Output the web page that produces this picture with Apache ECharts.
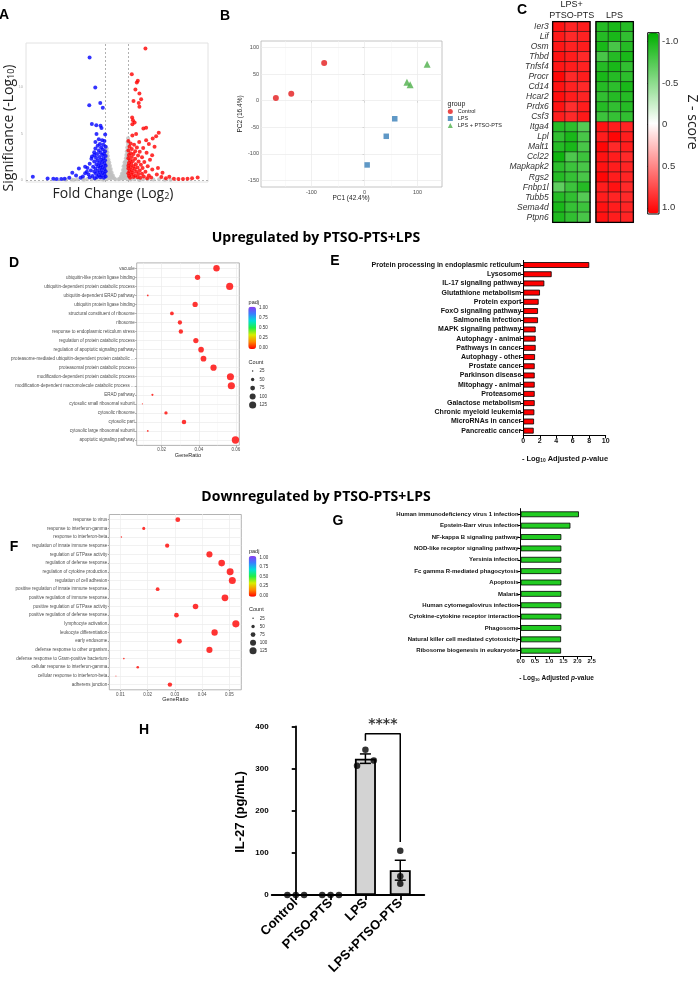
<!DOCTYPE html>
<html><head><meta charset="utf-8">
<script src="https://cdn.jsdelivr.net/npm/echarts@6.0.0/dist/echarts.min.js"></script>
<style>html,body{margin:0;padding:0;background:#fff}#c{width:700px;height:981px}</style>
</head><body><div id="c"></div>
<script>
// ---------------- DATA ----------------
// A: volcano (log2 fold change, -log10 p)
const volcanoNS = [[-0.98,3.6],[-0.95,3.2],[-0.9,3.4],[-0.92,2.8],[-0.85,3.0],[-0.97,2.4],[-0.88,2.5],[-0.8,2.6],[-0.93,2.0],[-0.83,2.1],[-0.75,2.2],[-0.96,1.6],[-0.86,1.7],[-0.77,1.8],[-0.68,1.9],[-0.9,1.3],[-0.8,1.4],[-0.7,1.5],[-0.62,1.55],[-0.95,1.0],[-0.85,1.05],[-0.74,1.1],[-0.64,1.15],[-0.55,1.2],[-0.92,0.7],[-0.8,0.75],[-0.69,0.8],[-0.58,0.85],[-0.48,0.85],[-0.9,0.4],[-0.78,0.45],[-0.66,0.5],[-0.55,0.5],[-0.45,0.55],[-0.36,0.5],[-0.85,0.15],[-0.7,0.2],[-0.58,0.2],[-0.46,0.25],[-0.35,0.25],[-0.25,0.2],[-0.15,0.1],
 [0.97,4.5],[0.93,4.1],[0.98,3.8],[0.9,3.5],[0.96,3.2],[0.86,3.1],[0.92,2.8],[0.82,2.7],[0.96,2.5],[0.88,2.3],[0.78,2.35],[0.94,2.0],[0.84,1.95],[0.74,2.0],[0.66,1.9],[0.96,1.6],[0.86,1.6],[0.76,1.6],[0.66,1.55],[0.58,1.5],[0.93,1.2],[0.83,1.2],[0.72,1.2],[0.62,1.15],[0.53,1.1],[0.95,0.85],[0.85,0.85],[0.74,0.85],[0.63,0.8],[0.52,0.75],[0.43,0.7],[0.92,0.45],[0.8,0.5],[0.68,0.5],[0.56,0.45],[0.45,0.45],[0.35,0.4],[0.88,0.15],[0.72,0.2],[0.6,0.2],[0.47,0.2],[0.35,0.18],[0.24,0.15],[0.14,0.1],
 [-4.5,0.05],[-4.0,0.08],[-3.5,0.1],[-3.0,0.1],[-2.6,0.12],[-2.2,0.1],[-1.8,0.08],[-1.4,0.1],[-1.2,0.05],[1.2,0.06],[1.5,0.1],[1.9,0.08],[2.3,0.1],[2.7,0.1],[3.2,0.08],[3.7,0.1],[4.2,0.05],[4.7,0.05],[-3.8,0.05],[-2.9,0.03],[2.0,0.02]];
const volcanoDown = [[-2.41,13.2],[-1.91,9.97],[-2.44,8.06],[-1.47,8.3],[-1.25,7.78],[-2.21,6.05],[-1.82,5.9],[-1.45,5.84],[-1.36,5.6],[-1.8,4.95],[-1.04,4.9],
 [-1.6,4.4],[-1.3,4.3],[-1.1,4.2],[-1.9,4.1],[-1.5,3.9],[-1.2,3.8],[-1.7,3.7],[-1.0,3.6],[-1.4,3.5],[-1.9,3.4],[-1.25,3.3],[-1.6,3.2],[-1.05,3.1],[-2.0,3.0],[-1.45,2.95],[-1.15,2.85],[-1.75,2.8],[-1.3,2.7],[-1.0,2.6],[-2.2,2.55],[-1.55,2.5],[-1.85,2.4],[-1.2,2.35],[-1.4,2.2],[-1.05,2.15],[-1.7,2.1],[-2.0,2.0],[-1.3,1.95],[-1.55,1.85],[-1.1,1.8],[-2.4,1.75],[-1.8,1.7],[-1.4,1.6],[-1.0,1.55],[-1.65,1.5],[-2.1,1.45],[-1.25,1.4],[-2.6,1.3],[-1.5,1.3],[-1.9,1.25],[-1.1,1.2],[-1.35,1.1],[-2.3,1.05],[-1.7,1.0],[-1.0,0.95],[-2.0,0.9],[-1.5,0.85],[-1.25,0.8],[-2.8,0.75],[-1.85,0.7],[-1.1,0.65],[-2.5,0.6],[-1.6,0.55],[-1.35,0.5],[-2.15,0.45],[-1.0,0.4],[-3.0,0.4],[-1.75,0.35],[-1.45,0.3],[-2.4,0.3],[-1.15,0.25],[-1.95,0.2],[-3.35,1.26],[-2.8,1.43],[-3.93,0.79],[-3.6,0.5],[-4.2,0.25],[-4.6,0.15],[-4.9,0.12],[-5.3,0.12],[-5.6,0.15],[-6.1,0.18],[-7.4,0.36],[-3.2,0.25],[-2.65,0.9],[-2.25,2.3],[-2.0,2.7]];
const volcanoUp = [[2.5,14.16],[1.3,11.4],[1.83,10.7],[1.74,10.5],[1.62,9.75],[1.97,9.32],[2.12,8.71],[1.45,8.5],[1.91,8.3],[1.97,7.88],[1.33,6.74],[1.4,6.45],[1.55,6.2],[1.35,6.0],[2.32,5.56],[2.56,5.63],[3.67,5.09],[3.44,4.73],[1.68,4.95],[1.35,4.8],[3.14,4.48],[2.56,4.3],[1.95,4.1],[2.8,3.9],[3.3,3.6],[3.09,2.69],
 [1.0,4.2],[1.2,3.95],[1.5,3.8],[1.1,3.6],[1.75,3.5],[2.3,3.45],[1.3,3.35],[1.0,3.2],[1.6,3.1],[2.0,3.05],[1.2,2.9],[2.6,2.95],[1.45,2.8],[1.05,2.7],[1.85,2.65],[1.3,2.5],[2.2,2.45],[1.0,2.35],[1.6,2.3],[2.9,2.2],[1.15,2.15],[1.4,2.05],[1.9,2.0],[2.4,1.95],[1.05,1.85],[1.25,1.75],[1.65,1.7],[2.1,1.65],[1.0,1.55],[1.45,1.5],[2.7,1.5],[1.2,1.4],[1.8,1.35],[2.25,1.3],[1.0,1.25],[1.55,1.2],[3.1,1.15],[1.3,1.1],[2.0,1.05],[1.1,0.95],[1.7,0.9],[2.5,0.9],[1.4,0.8],[1.0,0.75],[2.2,0.7],[1.9,0.65],[3.5,0.6],[1.25,0.6],[1.6,0.5],[2.8,0.5],[1.05,0.45],[2.35,0.4],[1.45,0.35],[3.9,0.35],[1.8,0.3],[1.15,0.25],[2.05,0.25],[3.0,0.28],[4.6,0.36],[4.3,0.2],[5.0,0.15],[5.4,0.12],[5.8,0.12],[6.2,0.14],[6.6,0.2],[7.09,0.29],[2.65,0.2],[4.0,0.8],[3.6,1.3]];
const volcanoYTicks = [0,5,10];

// B: PCA
const pcaControl = [[-167,5],[-138,13],[-76,71]];
const pcaLPS = [[57,-34],[41,-67],[5,-121]];
const pcaLPSPTSO = [[80,35],[86,30],[118,69]];
const pcaXTicks = [-100,0,100];
const pcaYTicks = [-150,-100,-50,0,50,100];

// C: heatmap z-scores
const heatGenes = ['Ier3','Lif','Osm','Thbd','Tnfsf4','Procr','Cd14','Hcar2','Prdx6','Csf3','Itga4','Lpl','Malt1','Ccl22','Mapkapk2','Rgs2','Fnbp1l','Tubb5','Sema4d','Ptpn6'];
const heatLPSPTSO = [[1.0,0.92,0.95],[0.97,0.9,0.93],[0.98,0.93,0.95],[1.0,0.95,0.9],[0.98,0.95,0.93],[1.05,0.9,0.95],[1.0,0.93,0.9],[1.02,0.95,0.92],[1.0,0.88,0.95],[0.95,0.9,0.97],
 [-0.95,-0.92,-0.75],[-0.9,-1.0,-0.8],[-0.95,-1.0,-0.8],[-1.05,-0.78,-0.85],[-0.92,-0.85,-0.8],[-0.95,-0.88,-0.8],[-0.7,-0.85,-0.95],[-0.95,-0.9,-0.75],[-1.0,-0.88,-0.85],[-0.98,-0.9,-0.8]];
const heatLPS = [[-0.95,-1.0,-0.95],[-0.95,-1.0,-0.9],[-1.0,-0.8,-0.95],[-0.8,-0.95,-1.0],[-0.95,-1.0,-0.9],[-1.0,-0.95,-0.92],[-0.95,-0.92,-1.0],[-0.9,-0.95,-0.95],[-0.95,-0.9,-0.95],[-0.85,-0.88,-0.9],
 [1.0,0.95,0.92],[0.95,1.05,0.95],[1.05,0.9,0.95],[1.0,0.95,0.9],[1.0,0.95,0.92],[1.05,0.95,0.92],[0.95,1.0,0.9],[0.95,0.92,0.9],[1.0,0.95,0.92],[1.0,0.95,0.92]];
const zTicks = [-1,-0.5,0,0.5,1];

// D: GO up
const goUpTerms = ['vacuole','ubiquitin-like protein ligase binding','ubiquitin-dependent protein catabolic process','ubiquitin-dependent ERAD pathway','ubiquitin protein ligase binding','structural constituent of ribosome','ribosome','response to endoplasmic reticulum stress','regulation of protein catabolic process','regulation of apoptotic signaling pathway','proteasome-mediated ubiquitin-dependent protein catabolic ...','proteasomal protein catabolic process','modification-dependent protein catabolic process','modification-dependent macromolecule catabolic process ...','ERAD pathway','cytosolic small ribosomal subunit','cytosolic ribosome','cytosolic part','cytosolic large ribosomal subunit','apoptotic signaling pathway'];
const goUpRatio = [0.0495,0.0393,0.0566,0.0125,0.038,0.0255,0.0298,0.0303,0.0384,0.0412,0.0425,0.0479,0.057,0.0575,0.015,0.0096,0.0223,0.032,0.0125,0.0597];
const goUpCount = [109,86,125,28,84,56,66,67,84,91,94,105,125,127,33,21,49,70,28,131];
const goUpPadj = [0.001,0.002,0.001,0.01,0.003,0.004,0.004,0.005,0.003,0.002,0.002,0.001,0.001,0.001,0.008,0.012,0.006,0.003,0.01,0.001];
const goUpXTicks = [0.02,0.04,0.06];

// E: KEGG up
const keggUpTerms = ['Protein processing in endoplasmic reticulum','Lysosome','IL-17 signaling pathway','Glutathione metabolism','Protein export','FoxO signaling pathway','Salmonella infection','MAPK signaling pathway','Autophagy - animal','Pathways in cancer','Autophagy - other','Prostate cancer','Parkinson disease','Mitophagy - animal','Proteasome','Galactose metabolism','Chronic myeloid leukemia','MicroRNAs in cancer','Pancreatic cancer'];
const keggUpVals = [8.0,3.44,2.55,2.02,1.86,1.78,1.78,1.5,1.5,1.5,1.42,1.38,1.38,1.38,1.38,1.38,1.34,1.3,1.26];

// F: GO down
const goDownTerms = ['response to virus','response to interferon-gamma','response to interferon-beta','regulation of innate immune response','regulation of GTPase activity','regulation of defense response','regulation of cytokine production','regulation of cell adhesion','positive regulation of innate immune response','positive regulation of immune response','positive regulation of GTPase activity','positive regulation of defense response','lymphocyte activation','leukocyte differentiation','early endosome','defense response to other organism','defense response to Gram-positive bacterium','cellular response to interferon-gamma','cellular response to interferon-beta','adherens junction'];
const goDownRatio = [0.0311,0.0186,0.0104,0.0272,0.0427,0.0472,0.0503,0.0511,0.0237,0.0484,0.0376,0.0306,0.0524,0.0446,0.0317,0.0427,0.0113,0.0164,0.0084,0.0282];
const goDownCount = [75,45,25,65,102,113,121,123,57,116,90,73,126,107,76,102,27,39,20,68];
const goDownPadj = [0.002,0.005,0.01,0.004,0.002,0.001,0.001,0.001,0.006,0.001,0.003,0.003,0.001,0.002,0.004,0.002,0.012,0.008,0.015,0.005];
const goDownXTicks = [0.01,0.02,0.03,0.04,0.05];

// G: KEGG down
const keggDownTerms = ['Human immunodeficiency virus 1 infection','Epstein-Barr virus infection','NF-kappa B signaling pathway','NOD-like receptor signaling pathway','Yersinia infection','Fc gamma R-mediated phagocytosis','Apoptosis','Malaria','Human cytomegalovirus infection','Cytokine-cytokine receptor interaction','Phagosome','Natural killer cell mediated cytotoxicity','Ribosome biogenesis in eukaryotes'];
const keggDownVals = [2.05,1.75,1.43,1.43,1.43,1.43,1.43,1.43,1.43,1.43,1.43,1.42,1.42];

// H: IL-27
const il27Groups = ['Control','PTSO-PTS','LPS','LPS+PTSO-PTS'];
const il27Values = [[0,0,0],[0,0,0],[345,307,319],[105,44.5,27]];
const il27Sig = ['****'];

// legend breaks
const padjBreaks = [0,0.25,0.5,0.75,1];
const countBreaks = [25,50,75,100,125];

// ---------------- BUILD ----------------
const grids=[], xAxes=[], yAxes=[], series=[], visualMaps=[], graphics=[];
function addGrid(g,x,y){grids.push(Object.assign({show:false,containLabel:false},g));const i=grids.length-1;xAxes.push(Object.assign({gridIndex:i},x));yAxes.push(Object.assign({gridIndex:i},y));return i;}
function txt(x,y,text,st,rot){graphics.push({type:'text',x:x,y:y,rotation:rot||0,silent:true,style:Object.assign({text:text,fill:'#000',align:'center',verticalAlign:'middle',fontFamily:'Liberation Sans'},st)});}
const hide={show:false};
const LS='Liberation Sans';

// ---- A volcano
const gA=addGrid({left:26,top:43,width:182,height:139,show:true,borderColor:'#e2e2e2',borderWidth:1,backgroundColor:'#fff'},
 {type:'value',min:-8,max:8,axisLine:hide,axisTick:hide,axisLabel:hide,splitLine:hide},
 {type:'value',min:-0.2,max:14.75,axisLine:hide,axisTick:hide,splitLine:hide,axisLabel:{customValues:volcanoYTicks,fontSize:4,color:'#aaa',margin:3}});
series.push({type:'scatter',xAxisIndex:gA,yAxisIndex:gA,data:volcanoNS,symbolSize:4,itemStyle:{color:'#bfbfbf'},silent:true,z:2,
 markLine:{silent:true,z:1,symbol:'none',label:hide,lineStyle:{color:'#b0b0b0',type:[2,2],width:1},data:[{xAxis:-1},{xAxis:1},{yAxis:0}]}});
series.push({type:'scatter',xAxisIndex:gA,yAxisIndex:gA,data:volcanoDown,symbolSize:4,itemStyle:{color:'#0000ff'},silent:true,z:3});
series.push({type:'scatter',xAxisIndex:gA,yAxisIndex:gA,data:volcanoUp,symbolSize:4,itemStyle:{color:'#ff0000'},silent:true,z:3});
txt(9,128,'{a|Significance (-Log}{s|10}{a|)}',{rich:{a:{fontSize:14,fontFamily:'Open Sans',fill:'#222'},s:{fontSize:9,fontFamily:'Open Sans',fill:'#222',verticalAlign:'bottom'}}},Math.PI/2);
txt(113,194,'{a|Fold Change (Log}{s|2}{a|)}',{rich:{a:{fontSize:14,fontFamily:'Open Sans',fill:'#222'},s:{fontSize:9,fontFamily:'Open Sans',fill:'#222',verticalAlign:'bottom'}}});

// ---- B PCA
const gB=addGrid({left:261,top:41,width:181,height:146,show:true,borderColor:'#b5b5b5',borderWidth:0.8,backgroundColor:'#fff'},
 {type:'value',min:-195,max:146,axisLine:hide,splitLine:hide,axisTick:{customValues:pcaXTicks,length:2,lineStyle:{color:'#444',width:0.5}},axisLabel:{customValues:pcaXTicks,fontSize:5.5,color:'#4d4d4d',margin:2,fontFamily:LS}},
 {type:'value',min:-162.6,max:112.6,axisLine:hide,splitLine:hide,axisTick:{customValues:pcaYTicks,length:2,lineStyle:{color:'#444',width:0.5}},axisLabel:{customValues:pcaYTicks,fontSize:5.5,color:'#4d4d4d',margin:2,fontFamily:LS}});
const majB='#e9e9e9', minB='#f4f4f4';
series.push({type:'scatter',name:'Control',xAxisIndex:gB,yAxisIndex:gB,data:pcaControl,symbol:'circle',symbolSize:6,itemStyle:{color:'#e41a1c'},z:3,
 markLine:{silent:true,z:1,symbol:'none',label:hide,data:[
  {xAxis:-150,lineStyle:{color:minB,width:0.5,type:'solid'}},{xAxis:-50,lineStyle:{color:minB,width:0.5,type:'solid'}},{xAxis:50,lineStyle:{color:minB,width:0.5,type:'solid'}},
  {xAxis:-100,lineStyle:{color:majB,width:0.7,type:'solid'}},{xAxis:0,lineStyle:{color:majB,width:0.7,type:'solid'}},{xAxis:100,lineStyle:{color:majB,width:0.7,type:'solid'}}
 ].concat(pcaYTicks.map(v=>({yAxis:v,lineStyle:{color:majB,width:0.7,type:'solid'}})))}});
series.push({type:'scatter',name:'LPS',xAxisIndex:gB,yAxisIndex:gB,data:pcaLPS,symbol:'rect',symbolSize:5.5,itemStyle:{color:'#377eb8'},z:3});
series.push({type:'scatter',name:'LPS + PTSO-PTS',xAxisIndex:gB,yAxisIndex:gB,data:pcaLPSPTSO,symbol:'triangle',symbolSize:7,itemStyle:{color:'#4daf4a'},z:3});
txt(351,198,'PC1 (42.4%)',{fontSize:6.5,fill:'#222'});
txt(240,114,'PC2 (16.4%)',{fontSize:6.5,fill:'#222'},Math.PI/2);
txt(447.5,104.3,'group',{fontSize:7,fill:'#222',align:'left'});

// ---- C heatmap
function heatBlock(left,vals,showLabels){
 const g=addGrid({left:left,top:21.7,width:37.3,height:200.6,show:true,borderColor:'#000',borderWidth:1.2,z:5},
  {type:'category',data:['1','2','3'],show:false},
  {type:'category',data:heatGenes,inverse:true,axisLine:hide,axisTick:hide,splitLine:hide,
   axisLabel:{show:showLabels,interval:0,fontSize:8.5,fontStyle:'italic',color:'#333',margin:4,fontFamily:LS}});
 const data=[];vals.forEach((row,r)=>row.forEach((v,c)=>data.push([c,r,v])));
 series.push({type:'heatmap',xAxisIndex:g,yAxisIndex:g,data:data,itemStyle:{borderColor:'#1a1a1a',borderWidth:0.6},silent:true});
 return series.length-1;
}
const hs1=heatBlock(552.7,heatLPSPTSO,true);
const hs2=heatBlock(596,heatLPS,false);
visualMaps.push({type:'continuous',seriesIndex:[hs1,hs2],dimension:2,min:-1.108,max:1.075,inverse:true,calculable:false,show:true,
 left:648,top:33,itemWidth:10.6,itemHeight:180.6,padding:0,inRange:{color:['#00b000','#ffffff','#ff0000']}});
const gZ=addGrid({left:647.7,top:32.7,width:11.3,height:181.3,show:true,borderColor:'#000',borderWidth:1,z:6},
 {type:'value',show:false},
 {type:'value',min:-1.108,max:1.075,inverse:true,position:'right',splitLine:hide,axisLine:hide,
  axisTick:{customValues:zTicks,length:2.5,lineStyle:{color:'#000',width:1}},
  axisLabel:{customValues:zTicks,formatter:v=>v===0?'0':v.toFixed(1),fontSize:9.5,color:'#333',margin:3,fontFamily:LS}});
txt(571.7,5,'LPS+',{fontSize:9,fill:'#222'});
txt(571.7,15.5,'PTSO-PTS',{fontSize:9,fill:'#222'});
txt(614.5,15.5,'LPS',{fontSize:9,fill:'#222'});
txt(692,122,'Z - score',{fontSize:14,fill:'#222',fontFamily:'Open Sans'},-Math.PI/2);

// ---- dot plots
const rainbow=['#ff0000','#ff8800','#d8ee00','#22ee44','#00e0d8','#3a7dff','#8a3cf0'];
function sizeFn(c){return Math.max(1,1+(Math.sqrt(c)-Math.sqrt(20))/(Math.sqrt(135)-Math.sqrt(20))*6.5);}
function dotPlot(o){
 const idx=o.terms.map((t,i)=>i+1);
 const g=addGrid({left:o.left,top:o.top,width:o.width,height:o.height,show:true,borderColor:'#a0a0a0',borderWidth:0.8,backgroundColor:'#fff'},
  {type:'value',min:o.xmin,max:o.xmax,axisLine:hide,splitLine:hide,axisTick:{customValues:o.xTicks,length:1.5,lineStyle:{color:'#444',width:0.5}},
   axisLabel:{customValues:o.xTicks,formatter:v=>v.toFixed(2),fontSize:4.5,color:'#4d4d4d',margin:2,fontFamily:LS}},
  {type:'value',min:0.4,max:o.terms.length+0.6,inverse:true,axisLine:hide,splitLine:hide,axisTick:{customValues:idx,length:1.5,lineStyle:{color:'#444',width:0.5}},
   axisLabel:{customValues:idx,formatter:v=>o.terms[Math.round(v)-1],fontSize:4.5,color:'#4d4d4d',margin:2,fontFamily:LS}});
 const ml=[];
 o.xTicks.forEach(v=>ml.push({xAxis:v,lineStyle:{color:'#ebebeb',width:0.7,type:'solid'}}));
 o.xMinor.forEach(v=>ml.push({xAxis:v,lineStyle:{color:'#f5f5f5',width:0.5,type:'solid'}}));
 idx.forEach(v=>ml.push({yAxis:v,lineStyle:{color:'#ebebeb',width:0.7,type:'solid'}}));
 series.push({type:'scatter',xAxisIndex:g,yAxisIndex:g,z:3,silent:true,
  data:o.terms.map((t,i)=>[o.ratio[i],i+1,o.count[i],o.padj[i]]),symbolSize:d=>sizeFn(d[2]),
  markLine:{silent:true,z:1,symbol:'none',label:hide,data:ml}});
 const si=series.length-1;
 visualMaps.push({type:'continuous',seriesIndex:si,dimension:3,min:0,max:1,calculable:false,show:true,left:o.lg.barLeft,top:o.lg.barTop,
  itemWidth:7.7,itemHeight:o.lg.barH,padding:0,inRange:{color:rainbow}});
 addGrid({left:o.lg.barLeft,top:o.lg.lblTop,width:7.7,height:o.lg.lblH},{type:'value',show:false},
  {type:'value',min:0,max:1,interval:0.25,position:'right',axisLine:hide,splitLine:hide,
   axisTick:{show:true,inside:true,length:1.5,lineStyle:{color:'#fff',width:0.5}},
   axisLabel:{formatter:v=>v.toFixed(2),fontSize:4.5,color:'#333',margin:3,fontFamily:LS}});
 txt(o.lg.barLeft+0.3,o.lg.padjY,'padj',{fontSize:5.5,fill:'#222',align:'left'});
 txt(o.lg.barLeft+0.3,o.lg.countY,'Count',{fontSize:5.5,fill:'#222',align:'left'});
 const gc=addGrid({left:o.lg.barLeft+0.6,top:o.lg.dotTop,width:7.5,height:o.lg.dotStep*5},
  {type:'category',data:[''],show:false},
  {type:'category',data:countBreaks.map(String),inverse:true,position:'right',axisLine:hide,axisTick:hide,splitLine:hide,
   axisLabel:{interval:0,fontSize:4.5,color:'#333',margin:3,fontFamily:LS}});
 series.push({type:'scatter',xAxisIndex:gc,yAxisIndex:gc,silent:true,data:countBreaks.map((c,i)=>[0,i,c]),symbolSize:d=>sizeFn(d[2]),itemStyle:{color:'#000'}});
 txt((o.left*2+o.width)/2,o.titleY,'GeneRatio',{fontSize:5.5,fill:'#222'});
}
dotPlot({terms:goUpTerms,ratio:goUpRatio,count:goUpCount,padj:goUpPadj,left:136.7,top:262.9,width:102.6,height:182.5,xmin:0.00654,xmax:0.06178,
 xTicks:goUpXTicks,xMinor:[0.01,0.03,0.05],titleY:455,
 lg:{barLeft:248.3,barTop:306.7,barH:42.3,lblTop:307.7,lblH:40,padjY:302,countY:362,dotTop:366.8,dotStep:8.5}});
dotPlot({terms:goDownTerms,ratio:goDownRatio,count:goDownCount,padj:goDownPadj,left:109.3,top:514.5,width:132,height:175.3,xmin:0.00596,xmax:0.0544,
 xTicks:goDownXTicks,xMinor:[0.015,0.025,0.035,0.045],titleY:699.3,
 lg:{barLeft:248.7,barTop:556,barH:40.7,lblTop:557.7,lblH:37.6,padjY:551.3,countY:609.7,dotTop:614.3,dotStep:8.1}});

// ---- bar charts (GraphPad)
function hbar(o){
 const g=addGrid({left:o.left,top:o.top,width:o.width,height:o.height},
  {type:'value',min:0,max:o.max,interval:o.interval,splitLine:hide,axisLine:{show:true,lineStyle:{color:'#000',width:1}},
   axisTick:{show:true,length:3,lineStyle:{color:'#000',width:1}},
   axisLabel:{formatter:o.fmt,fontSize:o.fs,fontWeight:'bold',color:'#111',margin:2,fontFamily:LS}},
  {type:'category',data:o.terms,inverse:true,axisLine:{show:true,lineStyle:{color:'#000',width:1}},
   axisTick:{show:true,alignWithLabel:true,length:3,lineStyle:{color:'#000',width:1}},splitLine:hide,
   axisLabel:{interval:0,fontSize:o.fs,fontWeight:'bold',color:'#111',margin:2,fontFamily:LS}});
 series.push({type:'bar',xAxisIndex:g,yAxisIndex:g,data:o.vals,barWidth:5.8,silent:true,itemStyle:{color:o.color,borderColor:'#000',borderWidth:0.8}});
 const ts=o.fs+0.5;
 txt(o.titleX,o.titleY,'{a|- Log}{s|10}{a| Adjusted }{i|p}{a|-value}',{rich:{
  a:{fontSize:ts,fontWeight:'bold',fontFamily:LS,fill:'#111'},
  s:{fontSize:ts*0.65,fontWeight:'bold',fontFamily:LS,fill:'#111',verticalAlign:'bottom'},
  i:{fontSize:ts,fontWeight:'bold',fontStyle:'italic',fontFamily:LS,fill:'#111'}}});
}
hbar({terms:keggUpTerms,vals:keggUpVals,left:523.3,top:260.4,width:82.4,height:174.9,max:10,interval:2,fmt:v=>String(v),fs:7,color:'#ff0000',titleX:565,titleY:459});
hbar({terms:keggDownTerms,vals:keggDownVals,left:520.7,top:508.6,width:71,height:147.8,max:2.5,interval:0.5,fmt:v=>v.toFixed(1),fs:6,color:'#22cc22',titleX:556.5,titleY:678.3});

// ---- H IL-27
const gH=addGrid({left:271.7,top:726.5,width:152.6,height:168.5},
 {type:'value',min:-0.69,max:3.69,splitLine:hide,axisLine:{show:true,lineStyle:{color:'#000',width:1.8}},
  axisTick:{show:true,customValues:[0,1,2,3],length:5,lineStyle:{color:'#000',width:1.8}},
  axisLabel:{customValues:[0,1,2,3],formatter:v=>il27Groups[Math.round(v)],rotate:45,fontSize:13,fontWeight:'bold',color:'#000',margin:6,fontFamily:LS}},
 {type:'value',min:0,max:400,interval:100,splitLine:hide,axisLine:{show:true,lineStyle:{color:'#000',width:1.8}},
  axisTick:{show:true,length:4,lineStyle:{color:'#000',width:1.8}},
  axisLabel:{fontSize:8,fontWeight:'bold',color:'#000',margin:3,fontFamily:LS}});
const mean=a=>a.reduce((s,v)=>s+v,0)/a.length;
const sem=a=>{const m=mean(a);return Math.sqrt(a.reduce((s,v)=>s+(v-m)*(v-m),0)/(a.length-1))/Math.sqrt(a.length);};
series.push({type:'bar',xAxisIndex:gH,yAxisIndex:gH,barWidth:21,silent:true,z:2,data:il27Values.map((v,i)=>[i,mean(v)]),
 itemStyle:{color:'#d3d3d3',borderColor:'#000',borderWidth:1.8}});
series.push({type:'custom',xAxisIndex:gH,yAxisIndex:gH,silent:true,z:4,data:il27Values.map((v,i)=>[i,mean(v)-sem(v),mean(v)+sem(v)]),
 renderItem:(p,api)=>{const x=api.value(0),lo=api.value(1),hi=api.value(2);if(!(hi-lo>0))return null;
  const a=api.coord([x,lo]),b=api.coord([x,hi]),w=5.5,st={stroke:'#000',lineWidth:1.5};
  return {type:'group',children:[{type:'line',shape:{x1:a[0],y1:a[1],x2:b[0],y2:b[1]},style:st},
   {type:'line',shape:{x1:a[0]-w,y1:a[1],x2:a[0]+w,y2:a[1]},style:st},{type:'line',shape:{x1:b[0]-w,y1:b[1],x2:b[0]+w,y2:b[1]},style:st}]};}});
const dotJitter=[[-0.24,0,0.24],[-0.24,0,0.24],[0,-0.24,0.24],[0,0,0]];
const dots=[];il27Values.forEach((arr,i)=>arr.forEach((v,j)=>dots.push([i+dotJitter[i][j],v])));
series.push({type:'scatter',xAxisIndex:gH,yAxisIndex:gH,silent:true,z:5,data:dots,symbolSize:6.5,itemStyle:{color:'#000'}});
const bracketTop=383, bracketGap=21;
series.push({type:'line',xAxisIndex:gH,yAxisIndex:gH,silent:true,z:4,symbol:'none',lineStyle:{color:'#000',width:1.5},
 data:[[2,Math.max(...il27Values[2])+bracketGap],[2,bracketTop],[3,bracketTop],[3,Math.max(...il27Values[3])+bracketGap]]});
series.push({type:'scatter',xAxisIndex:gH,yAxisIndex:gH,silent:true,z:4,symbolSize:0,data:[[2.5,bracketTop]],
 label:{show:true,position:'top',distance:2,formatter:il27Sig[0],fontSize:14,fontWeight:'bold',fontFamily:'DejaVu Sans',color:'#000'}});
txt(240,812,'IL-27 (pg/mL)',{fontSize:13,fontWeight:'bold'},Math.PI/2);

// ---- panel letters & titles
const L={fontSize:14,fontWeight:'bold',fontFamily:LS};
txt(4,15,'A',L);txt(225,16,'B',L);txt(522,10,'C',L);txt(14,263,'D',L);txt(335,261,'E',L);
txt(14,547,'F',L);txt(338,521,'G',L);txt(144,730,'H',L);
txt(316,238,'Upregulated by PTSO-PTS+LPS',{fontSize:14,fontWeight:'bold',fontFamily:'Open Sans'});
txt(316,497,'Downregulated by PTSO-PTS+LPS',{fontSize:14,fontWeight:'bold',fontFamily:'Open Sans'});

const chart=echarts.init(document.getElementById('c'),null,{renderer:'canvas'});
chart.setOption({animation:false,backgroundColor:'#fff',grid:grids,xAxis:xAxes,yAxis:yAxes,series:series,visualMap:visualMaps,graphic:graphics,
 legend:[{data:['Control','LPS','LPS + PTSO-PTS'],orient:'vertical',left:447.8,top:108.5,itemWidth:5,itemHeight:5,itemGap:1,padding:0,
  textStyle:{fontSize:5.5,color:'#222',lineHeight:5,fontFamily:LS},selectedMode:false}]});
</script></body></html>
